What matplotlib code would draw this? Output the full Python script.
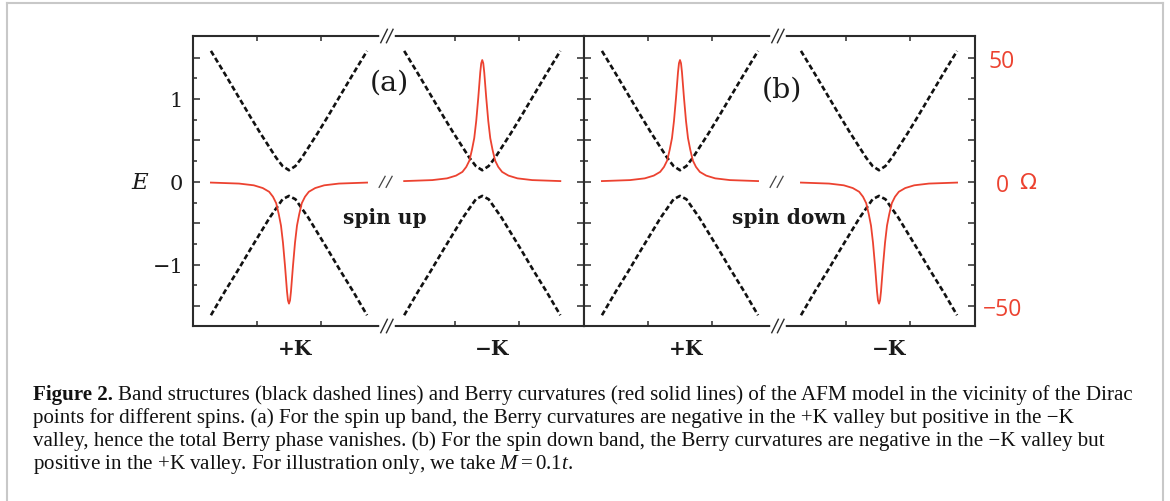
import numpy as np
import matplotlib
matplotlib.use('Agg')
import matplotlib.pyplot as plt
from matplotlib.lines import Line2D

# figure size in pixels
W, H = 1170, 502

# band structure near a Dirac point, k measured from the valley (tick units)
k_band = [-1.22, -1.0, -0.8, -0.6, -0.45, -0.3, -0.2, -0.1, 0.0,
          0.1, 0.2, 0.3, 0.45, 0.6, 0.8, 1.0, 1.22]
e_cond = [1.58, 1.30, 1.04, 0.78, 0.59, 0.41, 0.29, 0.19, 0.14,
          0.19, 0.29, 0.41, 0.59, 0.78, 1.04, 1.30, 1.58]
e_val = [-1.61, -1.32, -1.07, -0.81, -0.62, -0.43, -0.32, -0.21, -0.17,
         -0.21, -0.32, -0.43, -0.62, -0.81, -1.07, -1.32, -1.61]

# Berry curvature peak (magnitude), same k offsets convention
k_berry = [-1.22, -0.78, -0.55, -0.41, -0.31, -0.25, -0.2, -0.16, -0.125,
           -0.094, -0.062, -0.031, -0.016, 0.0, 0.016, 0.031, 0.062, 0.094,
           0.125, 0.16, 0.2, 0.25, 0.31, 0.41, 0.55, 0.78, 1.22]
omega_peak = [0.3, 0.7, 1.4, 2.5, 4.0, 6.0, 8.6, 13.0, 17.6,
              24.5, 33.9, 44.1, 47.7, 49.0, 47.7, 44.1, 33.9, 24.5,
              17.6, 13.0, 8.6, 6.0, 4.0, 2.5, 1.4, 0.7, 0.3]

# valley positions (+K, -K) and sign of the curvature per panel
valleys_a = [1.5, 4.52]
valleys_b = [1.5, 4.61]
sign_a = [-1, 1]
sign_b = [1, -1]

e_ticks = [-1.5, -1.0, -0.5, 0.0, 0.5, 1.0, 1.5]
e_labels = ['', '\u22121', '', '0', '', '1', '']
e_minor = [-1.25, -0.75, -0.25, 0.25, 0.75, 1.25]
omega_ticks = [-50, 0, 50]
omega_labels = ['\u221250', '0', '50']
k_ticks = [1.0, 2.0, 4.1, 5.1]
k_break = 3.03

RED = '#ec4230'
DARK = '#2b2b2b'
E_LIM = (-1.74, 1.76)
O_LIM = (-58.0, 58.67)
X_LIM = (0, 6.11)


def px(x, y):
    return x / W, 1 - y / H


def slashes(ax, xd, yd, half_w, half_h, sep, lw, color, cover):
    bb = ax.get_window_extent()
    aw, ah = bb.width, bb.height
    xa = (xd - X_LIM[0]) / (X_LIM[1] - X_LIM[0])
    ya = (yd - E_LIM[0]) / (E_LIM[1] - E_LIM[0])
    if cover:
        ax.add_line(Line2D([xa - 5 / aw, xa + 5 / aw], [ya, ya], color='white', lw=4,
                           transform=ax.transAxes, clip_on=False, zorder=6))
    for off in (-sep / 2, sep / 2):
        ax.add_line(Line2D([xa + (off - half_w) / aw, xa + (off + half_w) / aw],
                           [ya - half_h / ah, ya + half_h / ah], color=color, lw=lw,
                           transform=ax.transAxes, clip_on=False, zorder=7))


fig = plt.figure(figsize=(W / 100, H / 100), dpi=100)
plt.rcParams['mathtext.fontset'] = 'custom'
plt.rcParams['mathtext.rm'] = 'Liberation Serif'
plt.rcParams['mathtext.it'] = 'Liberation Serif:italic'

ax_a = fig.add_axes([193 / W, 1 - 327 / H, 391 / W, 290 / H])
ax_b = fig.add_axes([584 / W, 1 - 327 / H, 391 / W, 290 / H])

for ax, valleys, signs, show_left in [(ax_a, valleys_a, sign_a, True), (ax_b, valleys_b, sign_b, False)]:
    axo = ax.twinx()
    for kv, s in zip(valleys, signs):
        ax.plot(np.add(k_band, kv), e_cond, color='#111111', lw=1.9, dashes=(2.0, 1.1))
        ax.plot(np.add(k_band, kv), e_val, color='#111111', lw=1.9, dashes=(2.0, 1.1))
        axo.plot(np.add(k_berry, kv), np.multiply(omega_peak, s), color=RED, lw=1.3)
    ax.set_xlim(*X_LIM)
    ax.set_ylim(*E_LIM)
    axo.set_ylim(*O_LIM)
    ax.set_xticks(k_ticks)
    ax.set_xticklabels([])
    ax.set_yticks(e_ticks)
    ax.set_yticks(e_minor, minor=True)
    ax.set_yticklabels(e_labels if show_left else [''] * len(e_ticks))
    ax.tick_params(axis='both', which='both', direction='in', top=True, right=True,
                   left=True, bottom=True, width=1.1, color=DARK, labelcolor='#1a1a1a')
    ax.tick_params(axis='y', which='major', length=5.0, pad=7,
                   labelsize=15, labelfontfamily='DejaVu Serif')
    ax.tick_params(axis='y', which='minor', length=2.8)
    ax.tick_params(axis='x', which='major', length=3.6)
    for sp in ax.spines.values():
        sp.set_linewidth(1.5)
        sp.set_color(DARK)
    for sp in axo.spines.values():
        sp.set_visible(False)
    if show_left:
        axo.set_yticks([])
    else:
        axo.set_yticks(omega_ticks)
        axo.set_yticklabels(omega_labels)
        axo.tick_params(axis='y', length=0, pad=19.5, labelsize=16.5,
                        labelcolor=RED, labelfontfamily=['Open Sans', 'DejaVu Sans'])
        for lbl in axo.get_yticklabels():
            lbl.set_horizontalalignment('center')
    ax.text(valleys[0] + 0.1, -0.075, '+K', transform=ax.get_xaxis_transform(),
            ha='center', va='center', fontsize=14.5, family='DejaVu Serif',
            weight='bold', color='#1a1a1a')
    ax.text(valleys[1] + 0.15, -0.075, '\u2212K', transform=ax.get_xaxis_transform(),
            ha='center', va='center', fontsize=14.5, family='DejaVu Serif',
            weight='bold', color='#1a1a1a')
    slashes(ax, k_break, E_LIM[1], 3.3, 6.7, 5.7, 1.0, DARK, True)
    slashes(ax, k_break, E_LIM[0], 3.3, 6.7, 5.7, 1.0, DARK, True)
    slashes(ax, k_break - 0.02, 0.0, 3.0, 5.5, 7.0, 0.9, '#444444', False)

# panel annotations
fig.text(*px(389, 83), '(a)', ha='center', va='center', fontsize=20.5, family='DejaVu Serif', color='#1a1a1a')
fig.text(*px(782, 90), '(b)', ha='center', va='center', fontsize=20.5, family='DejaVu Serif', color='#1a1a1a')
fig.text(*px(385, 224), 'spin up', ha='center', va='baseline', fontsize=14.5,
         family='DejaVu Serif', weight='bold', color='#1a1a1a')
fig.text(*px(789, 224), 'spin down', ha='center', va='baseline', fontsize=14.5,
         family='DejaVu Serif', weight='bold', color='#1a1a1a')
fig.text(*px(140, 183), 'E', ha='center', va='center', fontsize=16.5,
         family='DejaVu Serif', style='italic', color='#1a1a1a')
fig.text(*px(1028, 183), '\u03a9', ha='center', va='center', fontsize=16,
         family='DejaVu Sans', color=RED)

# light frame around figure + caption
frame = '#c8c8c8'
fig.add_artist(Line2D([7 / W, 7 / W], [0, 1 - 4 / H], color=frame, lw=1.5))
fig.add_artist(Line2D([7 / W, 1163 / W], [1 - 4 / H, 1 - 4 / H], color=frame, lw=1.5))
fig.add_artist(Line2D([1163 / W, 1163 / W], [0, 1 - 4 / H], color=frame, lw=1.5))

cap_size = 15.1
cap_font = 'Liberation Serif'
fig.canvas.draw()
renderer = fig.canvas.get_renderer()
t0 = fig.text(*px(33, 400), 'Figure 2.', fontsize=cap_size, family=cap_font,
              weight='bold', va='baseline', color='#111111')
w0 = t0.get_window_extent(renderer).width
fig.text((33 + w0 + 5) / W, 1 - 400 / H,
         'Band structures (black dashed lines) and Berry curvatures (red solid lines) '
         'of the AFM model in the vicinity of the Dirac',
         fontsize=cap_size, family=cap_font, va='baseline', color='#111111')
cap_lines = [
    'points for different spins. (a) For the spin up band, the Berry curvatures are '
    'negative in the +K valley but positive in the \u2212K',
    'valley, hence the total Berry phase vanishes. (b) For the spin down band, the Berry '
    'curvatures are negative in the \u2212K valley but',
    'positive in the +K valley. For illustration only, we take $M=0.1t$.',
]
for i, line in enumerate(cap_lines):
    fig.text(*px(33, 423 + 23 * i), line, fontsize=cap_size, family=cap_font,
             va='baseline', color='#111111')

fig.savefig('out.png', dpi=100)
